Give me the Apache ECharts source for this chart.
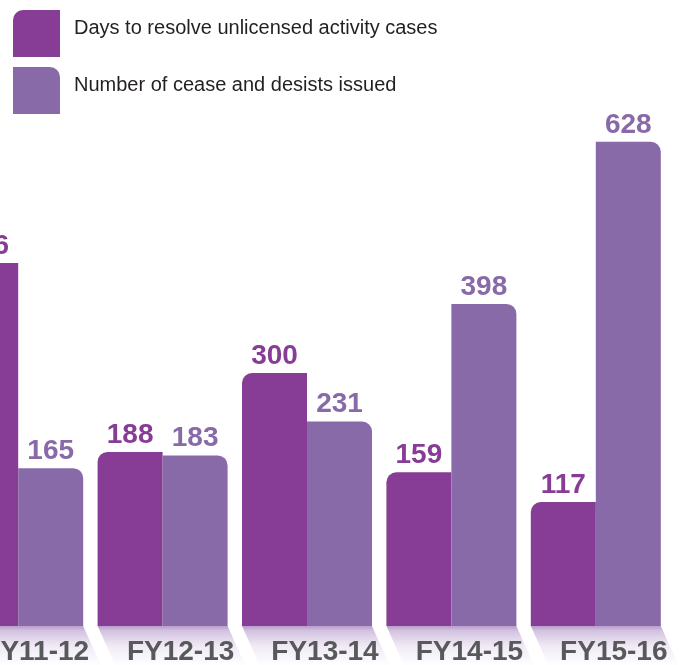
<!DOCTYPE html>
<html>
<head>
<meta charset="utf-8">
<style>html,body{margin:0;padding:0;background:#fff;}#c{width:691px;height:665px;}</style>
<script src="https://cdn.jsdelivr.net/npm/echarts@6/dist/echarts.min.js"></script>
</head>
<body>
<div id="c"></div>
<script>
const categories = ['FY11-12', 'FY12-13', 'FY13-14', 'FY14-15', 'FY15-16'];
const daysToResolve = [456, 188, 300, 159, 117];
const ceaseAndDesists = [165, 183, 231, 398, 628];
const seriesNames = ['Days to resolve unlicensed activity cases', 'Number of cease and desists issued'];
const colors = ['#873c96', '#896aa8'];
const axisMin = -59, axisMax = 693;

const chart = echarts.init(document.getElementById('c'));
const FONT = '"Liberation Sans", Arial, sans-serif';

const bandGradient = new echarts.graphic.LinearGradient(0, 0, 0, 1, [
  {offset: 0, color: '#b89ccb'},
  {offset: 0.12, color: '#d3c2e0'},
  {offset: 0.5, color: '#f0eaf5'},
  {offset: 1, color: '#ffffff'}
]);

chart.setOption({
  backgroundColor: '#ffffff',
  animation: false,
  legend: {
    orient: 'vertical',
    left: 8,
    top: 5,
    itemWidth: 47,
    itemHeight: 47,
    itemGap: 10,
    formatter: function (name) { return '{t|' + name + '}'; },
    textStyle: {
      fontSize: 20, color: '#231f20', fontFamily: FONT, padding: [0, 0, 0, 9],
      rich: {t: {fontSize: 20, color: '#231f20', fontFamily: FONT, padding: [0, 0, 11, 0]}}
    },
    data: [
      {name: seriesNames[0], icon: 'path://M0,10 A10,10 0 0 1 10,0 L47,0 L47,47 L0,47 Z'},
      {name: seriesNames[1], icon: 'path://M0,0 L37,0 A10,10 0 0 1 47,10 L47,47 L0,47 Z'}
    ]
  },
  grid: {left: -54, right: 23, top: 96, bottom: 39, outerBoundsMode: 'none', containLabel: false},
  xAxis: {
    type: 'category',
    data: categories,
    z: 10,
    axisLine: {show: false},
    axisTick: {show: false},
    axisLabel: {
      interval: 0,
      margin: 12,
      fontSize: 28,
      fontWeight: 'bold',
      color: '#58595b',
      fontFamily: FONT,
      padding: [0, 0, 0, 36]
    }
  },
  yAxis: {
    type: 'value',
    min: axisMin,
    max: axisMax,
    startValue: axisMin,
    show: false,
    splitLine: {show: false}
  },
  series: [
    {
      type: 'custom',
      silent: true,
      z: 0,
      clip: false,
      data: categories.map((c, i) => [i, axisMin]),
      encode: {x: 0, y: 1},
      renderItem: function (params, api) {
        const x = api.coord([api.value(0), api.value(1)])[0];
        const cs = params.coordSys;
        const yb = cs.y + cs.height;
        const w = api.size([1, 0])[0] * 0.9 / 2;
        const s = 18, h = 40;
        return {
          type: 'polygon',
          shape: {points: [[x - w, yb], [x + w, yb], [x + w + s, yb + h], [x - w + s, yb + h]]},
          style: {fill: bandGradient}
        };
      }
    },
    {
      name: seriesNames[0],
      type: 'bar',
      barWidth: 65,
      barGap: '0%',
      data: daysToResolve,
      itemStyle: {color: colors[0], borderRadius: [10, 0, 0, 0]},
      label: {show: true, position: 'top', distance: 3, fontSize: 28, fontWeight: 'bold', color: colors[0], fontFamily: FONT}
    },
    {
      name: seriesNames[1],
      type: 'bar',
      barWidth: 65,
      barGap: '0%',
      data: ceaseAndDesists,
      itemStyle: {color: colors[1], borderRadius: [0, 10, 0, 0]},
      label: {show: true, position: 'top', distance: 3, fontSize: 28, fontWeight: 'bold', color: colors[1], fontFamily: FONT}
    }
  ]
});
</script>
</body>
</html>
